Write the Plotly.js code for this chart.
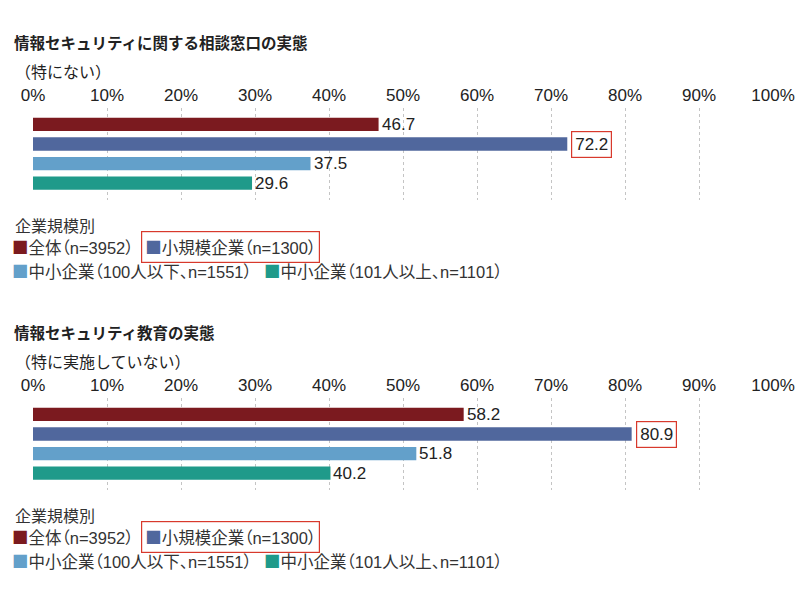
<!DOCTYPE html>
<html>
<head>
<meta charset="utf-8">
<script src="https://cdn.plot.ly/plotly-3.0.1.min.js"></script>
<style>html,body{margin:0;padding:0;background:#fff;}#chart{width:800px;height:600px;}</style>
</head>
<body>
<div id="chart"></div>
<script>
// ---- data ----
const categories = ['全体（n=3952）', '小規模企業（n=1300）', '中小企業（100人以下、n=1551）', '中小企業（101人以上、n=1101）'];
const consultValues = [46.7, 72.2, 37.5, 29.6];
const educationValues = [58.2, 80.9, 51.8, 40.2];
const tickValues = [0, 10, 20, 30, 40, 50, 60, 70, 80, 90, 100];
const tickLabels = ['0%', '10%', '20%', '30%', '40%', '50%', '60%', '70%', '80%', '90%', '100%'];
const chartTitles = ['情報セキュリティに関する相談窓口の実態', '情報セキュリティ教育の実態'];
const chartSubtitles = ['（特にない）', '（特に実施していない）'];
const legendTitle = '企業規模別';
const highlightIndex = 1;

// ---- styles ----
const barColors = ['#7b1a1f', '#50679d', '#63a0ca', '#1f9a8a'];
const FONT = 'Liberation Sans, "Noto Sans CJK JP", sans-serif';
const TXT = '#222';
const HL = '#d8392c';
const W = 800, H = 600;
const px = x => x / W;
const py = y => 1 - y / H;

const series = [consultValues, educationValues];
const offsets = [0, 290];

const data = series.map((vals, k) => ({
  type: 'bar', orientation: 'h',
  x: vals, y: categories,
  xaxis: k === 0 ? 'x' : 'x2', yaxis: k === 0 ? 'y' : 'y2',
  width: 0.68,
  marker: {color: barColors, line: {width: 0}},
  hoverinfo: 'none', showlegend: false
}));

function xAxis(anchor) {
  return {
    domain: [px(33), px(773)], range: [0, 100], anchor: anchor, side: 'top',
    tickvals: tickValues, ticktext: tickLabels, ticks: '', ticklabelstandoff: 3,
    tickfont: {family: FONT, size: 17, color: TXT},
    showgrid: true, gridcolor: '#c4c4c4', griddash: 'dot', gridwidth: 1,
    zeroline: false, showline: false, fixedrange: true
  };
}
function yAxis(anchor, off) {
  return {
    domain: [py(200 + off), py(108 + off)], anchor: anchor, type: 'category',
    range: [3.86, -0.84], showticklabels: false, showgrid: false, zeroline: false,
    showline: false, ticks: '', fixedrange: true
  };
}

const PALT = 'font-feature-settings:\'palt\' 1;';
const annotations = [];
series.forEach((vals, k) => {
  const off = offsets[k];
  const xr = k === 0 ? 'x' : 'x2', yr = k === 0 ? 'y' : 'y2';
  annotations.push({xref: 'paper', yref: 'paper', x: px(12), y: py(43 + off), xanchor: 'left', yanchor: 'middle',
    text: '<b>' + chartTitles[k] + '</b>', showarrow: false, font: {family: FONT, size: 15.5, color: TXT}});
  annotations.push({xref: 'paper', yref: 'paper', x: px(13), y: py(72 + off), xanchor: 'left', yanchor: 'middle',
    text: chartSubtitles[k], showarrow: false, font: {family: FONT, size: 16, color: TXT}});
  vals.forEach((v, i) => {
    const hl = i === highlightIndex;
    annotations.push({xref: xr, yref: yr, x: v, y: categories[i], xanchor: 'left', yanchor: 'middle',
      xshift: hl ? 4 : 3, text: v.toFixed(1), showarrow: false,
      font: {family: FONT, size: 17, color: TXT},
      bordercolor: hl ? HL : 'rgba(0,0,0,0)', borderwidth: hl ? 1.2 : 0, borderpad: hl ? 3 : 0});
  });
  // legend
  annotations.push({xref: 'paper', yref: 'paper', x: px(13), y: py(226 + off), xanchor: 'left', yanchor: 'middle',
    text: legendTitle, showarrow: false, font: {family: FONT, size: 16, color: '#333'}});
  const legPos = [[12, 247], [141, 247], [12, 271], [264, 271]];
  categories.forEach((c, i) => {
    const hl = i === highlightIndex;
    annotations.push({xref: 'paper', yref: 'paper', x: px(legPos[i][0]), y: py(legPos[i][1] + off), xanchor: 'left', yanchor: 'middle',
      text: '<span style="' + PALT + '"><span style="font-family:\'Noto Sans CJK JP\';color:' + barColors[i] + '">■</span>' + c + '</span>',
      showarrow: false,
      font: {family: FONT, size: 16.5, color: '#333'},
      bordercolor: hl ? HL : 'rgba(0,0,0,0)', borderwidth: hl ? 1.2 : 0, borderpad: hl ? 3 : 0});
  });
});

const layout = {
  width: W, height: H, margin: {l: 0, r: 0, t: 0, b: 0},
  paper_bgcolor: '#fff', plot_bgcolor: '#fff',
  font: {family: FONT, color: TXT},
  xaxis: xAxis('y'), yaxis: yAxis('x', 0),
  xaxis2: xAxis('y2'), yaxis2: yAxis('x2', 290),
  annotations: annotations, showlegend: false
};

Plotly.newPlot('chart', data, layout, {staticPlot: true, displayModeBar: false});
</script>
</body>
</html>
